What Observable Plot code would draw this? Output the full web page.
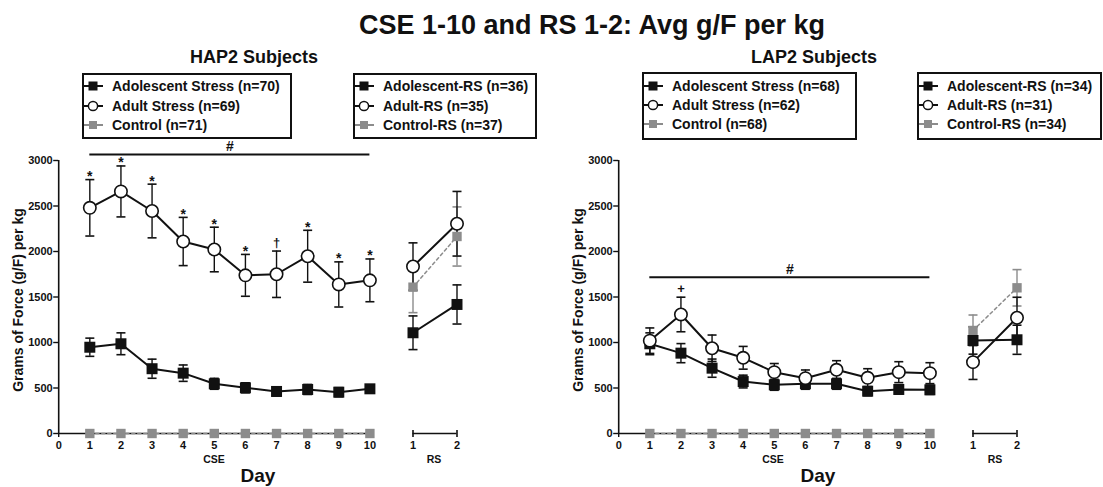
<!DOCTYPE html>
<html><head><meta charset="utf-8">
<script src="https://cdn.jsdelivr.net/npm/d3@7"></script>
<script src="https://cdn.jsdelivr.net/npm/@observablehq/plot@0.6"></script>
<style>
body{margin:0;background:#fff;font-family:"Liberation Sans",Arial,Helvetica,sans-serif;}
#root{position:relative;width:1103px;height:487px;overflow:hidden;background:#fff;}
.abs{position:absolute;white-space:nowrap;line-height:1;font-weight:bold;color:#111;transform:translate(-50%,-50%);}
.rot{transform:translate(-50%,-50%) rotate(-90deg);}
.legend{position:absolute;border:2px solid #111;box-sizing:border-box;}
.row{position:absolute;left:0;height:18px;display:flex;align-items:center;font-size:14px;font-weight:bold;color:#111;white-space:nowrap;}
.row svg{flex:none;margin-right:6px;}
.panel{position:absolute;top:140px;}
</style></head><body><div id="root"></div>
<script>
// ---------- data ----------
const cseDays = [1, 2, 3, 4, 5, 6, 7, 8, 9, 10];
const cseTicks = [0, 1, 2, 3, 4, 5, 6, 7, 8, 9, 10];
const rsDays = [1, 2];
const yTicks = [0, 500, 1000, 1500, 2000, 2500, 3000];

// HAP2 CSE
const hapAdolescent    = [948, 986, 712, 663, 546, 502, 462, 484, 454, 491];
const hapAdolescentErr = [100, 120, 105, 90, 60, 55, 50, 55, 50, 40];
const hapAdult         = [2480, 2660, 2445, 2110, 2022, 1738, 1750, 1948, 1638, 1683];
const hapAdultErr      = [310, 280, 295, 265, 245, 230, 255, 285, 248, 235];
const hapControl       = [0, 0, 0, 0, 0, 0, 0, 0, 0, 0];
const hapControlErr    = [0, 0, 0, 0, 0, 0, 0, 0, 0, 0];
const hapSig           = ["*", "*", "*", "*", "*", "*", "\u2020", "*", "*", "*"];
const hapBar           = {from: 1, to: 10, y: 3065, label: "#"};
// HAP2 RS
const hapRsAdolescent    = [1107, 1418];
const hapRsAdolescentErr = [185, 215];
const hapRsAdult         = [1835, 2305];
const hapRsAdultErr      = [260, 355];
const hapRsControl       = [1608, 2165];
const hapRsControlErr    = [280, 325];

// LAP2 CSE
const lapAdolescent    = [986, 883, 718, 571, 535, 546, 546, 465, 484, 480];
const lapAdolescentErr = [120, 105, 100, 70, 60, 60, 60, 50, 50, 50];
const lapAdult         = [1020, 1308, 937, 832, 674, 608, 700, 612, 674, 663];
const lapAdultErr      = [140, 190, 145, 125, 95, 90, 100, 100, 115, 115];
const lapControl       = [0, 0, 0, 0, 0, 0, 0, 0, 0, 0];
const lapControlErr    = [0, 0, 0, 0, 0, 0, 0, 0, 0, 0];
const lapSig           = ["", "+", "", "", "", "", "", "", "", ""];
const lapBar           = {from: 1, to: 10, y: 1718, label: "#"};
// LAP2 RS
const lapRsAdolescent    = [1022, 1030];
const lapRsAdolescentErr = [150, 160];
const lapRsAdult         = [784, 1272];
const lapRsAdultErr      = [190, 225];
const lapRsControl       = [1132, 1601];
const lapRsControlErr    = [170, 200];

// texts
const mainTitle = "CSE 1-10 and RS 1-2: Avg g/F per kg";
const panelTitles = ["HAP2 Subjects", "LAP2 Subjects"];
const yLabel = "Grams of Force (g/F) per kg";
const hapLegendCse = ["Adolescent Stress (n=70)", "Adult Stress (n=69)", "Control (n=71)"];
const hapLegendRs  = ["Adolescent-RS (n=36)", "Adult-RS (n=35)", "Control-RS (n=37)"];
const lapLegendCse = ["Adolescent Stress (n=68)", "Adult Stress (n=62)", "Control (n=68)"];
const lapLegendRs  = ["Adolescent-RS (n=34)", "Adult-RS (n=31)", "Control-RS (n=34)"];
const kinds = ["adolescent", "adult", "control"];

// ---------- helpers ----------
const font = '"Liberation Sans", Arial, Helvetica, sans-serif';
const ink = "#111";
const grey = "#8c8c8c";
const capSymbol = {draw(ctx, size) { const h = Math.sqrt(size / Math.PI); ctx.moveTo(-h, 0); ctx.lineTo(h, 0); }};
const vSymbol = {draw(ctx, size) { const h = Math.sqrt(size / Math.PI); ctx.moveTo(0, -h); ctx.lineTo(0, h); }};

function rows(days, means, errs, sig) {
  return days.map((d, i) => ({day: d, mean: means[i], err: errs[i], sig: sig ? sig[i] : ""}));
}

function groupMarks(data, kind) {
  const isControl = kind === "control";
  const color = isControl ? grey : ink;
  const withErr = data.filter(d => d.err > 0);
  const lineOpts = {x: "day", y: "mean", stroke: color, strokeWidth: isControl ? 1.5 : 2};
  if (isControl) lineOpts.strokeDasharray = "3,3";
  return [
    Plot.ruleX(withErr, {x: "day", y1: d => d.mean - d.err, y2: d => d.mean + d.err, stroke: color, strokeWidth: 1.4}),
    Plot.dot(withErr, {x: "day", y: d => d.mean + d.err, symbol: capSymbol, r: 4.5, stroke: color, strokeWidth: 1.6}),
    Plot.dot(withErr, {x: "day", y: d => d.mean - d.err, symbol: capSymbol, r: 4.5, stroke: color, strokeWidth: 1.6}),
    Plot.line(data, lineOpts)
  ];
}
function dotMarks(data, kind) {
  if (kind === "adolescent") return Plot.dot(data, {x: "day", y: "mean", symbol: "square", r: 6.2, fill: ink});
  if (kind === "adult") return Plot.dot(data, {x: "day", y: "mean", r: 6.2, fill: "white", stroke: ink, strokeWidth: 1.6});
  return Plot.dot(data, {x: "day", y: "mean", symbol: "square", r: 5.3, fill: grey});
}

const common = {
  height: 347, marginTop: 20, marginBottom: 54,
  y: {domain: [0, 3000]},
  style: {fontFamily: font, background: "transparent", overflow: "visible", color: ink}
};

function csePanel(ado, adu, ctl, bar) {
  return Plot.plot({
    ...common,
    width: 400, marginLeft: 58.2, marginRight: 30.6,
    x: {domain: [cseTicks[0], cseTicks[cseTicks.length - 1]]},
    marks: [
      Plot.ruleX([cseTicks[0]], {y1: yTicks[0], y2: yTicks[yTicks.length - 1], stroke: ink, strokeWidth: 1.6}),
      Plot.ruleY([yTicks[0]], {x1: cseTicks[0], x2: cseTicks[cseTicks.length - 1], stroke: ink, strokeWidth: 1.6}),
      Plot.axisY({ticks: yTicks, tickFormat: "d", tickSize: 5, tickPadding: 1, fontSize: 11, fontWeight: "bold", label: null, strokeWidth: 1.4}),
      Plot.axisX({ticks: cseTicks, tickFormat: "d", tickSize: 4, tickPadding: 4, fontSize: 11, fontWeight: "bold", label: null, strokeWidth: 1.4}),
      ...groupMarks(ctl, "control"),
      ...groupMarks(ado, "adolescent"),
      ...groupMarks(adu, "adult"),
      dotMarks(ctl, "control"),
      dotMarks(ado, "adolescent"),
      dotMarks(adu, "adult"),
      Plot.text(adu.filter(d => d.sig === "*"), {x: "day", y: d => d.mean + d.err, text: "sig", dy: -3, fontSize: 14, fontWeight: "bold", fill: ink}),
      Plot.text(adu.filter(d => d.sig && d.sig !== "*"), {x: "day", y: d => d.mean + d.err, text: "sig", dy: -8, fontSize: 13, fontWeight: "bold", fill: ink}),
      Plot.ruleY([bar], {y: "y", x1: "from", x2: "to", stroke: ink, strokeWidth: 2}),
      Plot.text([bar], {x: d => (d.from + d.to) / 2, y: "y", text: "label", dy: -8, fontSize: 14, fontWeight: "bold", fill: ink})
    ]
  });
}

function rsPanel(ado, adu, ctl) {
  return Plot.plot({
    ...common,
    width: 110, marginLeft: 32.5, marginRight: 33.5,
    x: {domain: [rsDays[0], rsDays[rsDays.length - 1]]},
    y: {domain: [0, 3000], axis: null},
    marks: [
      Plot.ruleY([yTicks[0]], {x1: rsDays[0], x2: rsDays[rsDays.length - 1], stroke: ink, strokeWidth: 1.6}),
      Plot.dot(rsDays, {x: d => d, y: () => yTicks[0], symbol: vSymbol, r: 3.5, stroke: ink, strokeWidth: 1.6}),
      Plot.axisX({ticks: rsDays, tickFormat: "d", tickSize: 0, tickPadding: 8, fontSize: 11, fontWeight: "bold", label: null}),
      ...groupMarks(ctl, "control"),
      ...groupMarks(ado, "adolescent"),
      ...groupMarks(adu, "adult"),
      dotMarks(ctl, "control"),
      dotMarks(ado, "adolescent"),
      dotMarks(adu, "adult")
    ]
  });
}

// ---------- layout ----------
const root = document.getElementById("root");
function label(text, x, y, size, cls) {
  const d = document.createElement("div");
  d.className = "abs" + (cls ? " " + cls : "");
  d.style.left = x + "px"; d.style.top = y + "px"; d.style.fontSize = size + "px";
  d.textContent = text;
  root.appendChild(d);
}
function place(node, left) {
  const w = document.createElement("div");
  w.className = "panel"; w.style.left = left + "px";
  w.appendChild(node);
  root.appendChild(w);
}
function markerSvg(kind) {
  const c = kind === "control" ? grey : ink;
  let m;
  if (kind === "adolescent") m = `<rect x="4.5" y="4.5" width="9" height="9" fill="${ink}"/>`;
  else if (kind === "adult") m = `<circle cx="9" cy="9" r="4.6" fill="white" stroke="${ink}" stroke-width="1.5"/>`;
  else m = `<rect x="5" y="5" width="8" height="8" fill="${grey}"/>`;
  return `<svg width="22" height="18"><line x1="0" x2="19" y1="9" y2="9" stroke="${c}" stroke-width="2"/>${m}</svg>`;
}
function legend(left, top, width, height, labels) {
  const box = document.createElement("div");
  box.className = "legend";
  Object.assign(box.style, {left: left + "px", top: top + "px", width: width + "px", height: height + "px"});
  const tops = [2.5, 22, 41];
  labels.forEach((t, i) => {
    const r = document.createElement("div");
    r.className = "row"; r.style.top = tops[i] + "px";
    r.innerHTML = markerSvg(kinds[i]);
    const s = document.createElement("span"); s.textContent = t; r.appendChild(s);
    box.appendChild(r);
  });
  root.appendChild(box);
}

label(mainTitle, 592, 25, 27);
label(panelTitles[0], 254, 57, 18);
label(panelTitles[1], 814, 57, 18);
legend(82, 72.5, 210, 66.5, hapLegendCse);
legend(353, 72.5, 184, 66.5, hapLegendRs);
legend(642, 72, 215, 68, lapLegendCse);
legend(917, 72, 185, 68, lapLegendRs);

place(csePanel(rows(cseDays, hapAdolescent, hapAdolescentErr), rows(cseDays, hapAdult, hapAdultErr, hapSig), rows(cseDays, hapControl, hapControlErr), hapBar), 0);
place(rsPanel(rows(rsDays, hapRsAdolescent, hapRsAdolescentErr), rows(rsDays, hapRsAdult, hapRsAdultErr), rows(rsDays, hapRsControl, hapRsControlErr)), 380);
place(csePanel(rows(cseDays, lapAdolescent, lapAdolescentErr), rows(cseDays, lapAdult, lapAdultErr, lapSig), rows(cseDays, lapControl, lapControlErr), lapBar), 560);
place(rsPanel(rows(rsDays, lapRsAdolescent, lapRsAdolescentErr), rows(rsDays, lapRsAdult, lapRsAdultErr), rows(rsDays, lapRsControl, lapRsControlErr)), 940);

label(yLabel, 18, 300, 14, "rot");
label(yLabel, 578, 300, 14, "rot");
label("CSE", 214, 459, 10.5);
label("CSE", 773, 459, 10.5);
label("RS", 434, 459, 10.5);
label("RS", 995, 459, 10.5);
label("Day", 258, 475, 19);
label("Day", 818, 475, 19);
</script></body></html>
